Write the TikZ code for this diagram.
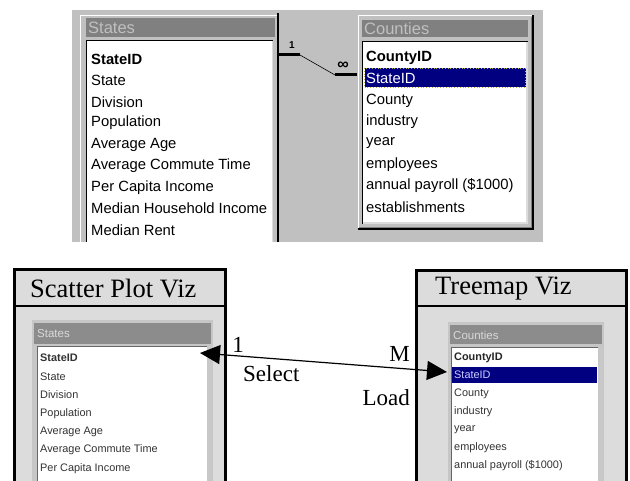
\documentclass[tikz,border=0pt]{standalone}
\usepackage{fontspec}
\setmainfont{Liberation Serif}
\newfontfamily\uisans{Liberation Sans}
\usetikzlibrary{arrows.meta}
\definecolor{panelgray}{HTML}{C0C0C0}
\definecolor{titlegray}{HTML}{808080}
\definecolor{boxgray}{HTML}{DCDCDC}
\definecolor{selnavy}{HTML}{000080}
\definecolor{blurbar}{HTML}{8C8C8C}
\definecolor{blurstrip}{HTML}{C8C8C8}
\tikzset{
  rowtxt/.style={anchor=west, inner sep=0pt, font=\uisans\fontsize{14.8}{16}\selectfont},
  titletxt/.style={anchor=west, inner sep=0pt, text=panelgray, font=\uisans\fontsize{16.5}{18}\selectfont},
  smallrow/.style={anchor=west, inner sep=0pt, text=black!80, font=\uisans\fontsize{10.9}{12}\selectfont},
  smalltitle/.style={anchor=west, inner sep=0pt, text=black!15, font=\uisans\fontsize{11.5}{12}\selectfont},
  bigtxt/.style={inner sep=0pt, font=\fontsize{23}{28}\selectfont},
  headtxt/.style={inner sep=0pt, anchor=west, font=\fontsize{26.5}{30}\selectfont},
  vizbox/.style={draw=black, line width=3pt, fill=boxgray},
  relline/.style={line width=3pt},
  biarrow/.style={line width=1.2pt, {Triangle[length=20pt,width=19pt]}-{Triangle[length=20pt,width=19pt]}}
}
\begin{document}
\begin{tikzpicture}[x=1pt,y=-1pt]
\useasboundingbox (0,0) rectangle (630,481);
\clip (0,0) rectangle (630,481);
\fill[white] (0,0) rectangle (630,481);

% ================= top panel =================
\begin{scope}
\clip (72,10) rectangle (543,242);
\fill[panelgray] (72,10) rectangle (543,242);
% States window
\draw[white, line width=1pt] (80.5,250) -- (80.5,15.5) -- (277,15.5);
\draw[black, line width=1.5pt] (278,13) -- (278,250);
\fill[titlegray] (86,18) rectangle (275,37);
\node[titletxt] (sttl) at (88,28) {States};
\fill[white] (86,40) rectangle (273,250);
\draw[black, line width=1pt] (86.5,250) -- (86.5,40.5) -- (273,40.5);
\draw[boxgray, line width=1pt] (272.5,41) -- (272.5,250);
\node[rowtxt, font=\uisans\bfseries\fontsize{14.8}{16}\selectfont] (sr0) at (91,59) {StateID};
\foreach \t [count=\i] in {State,Division,Population,Average Age,Average Commute Time,Per Capita Income,Median Household Income,Median Rent}
  \node[rowtxt] (sr\i) at (91,{59+21.375*\i}) {\t};
\end{scope}

% Counties window
\draw[white, line width=1pt] (358.5,229) -- (358.5,15.5) -- (533,15.5);
\draw[black, line width=1.2pt] (357.5,229) -- (533,229) -- (533,15);
\draw[titlegray, line width=1pt] (359,227.5) -- (531.5,227.5) -- (531.5,17);
\fill[titlegray] (362,20) rectangle (528,37);
\node[titletxt] (cttl) at (364,29) {Counties};
\fill[white] (362,41) rectangle (528,224);
\draw[black, line width=1pt] (362.5,224) -- (362.5,41.5) -- (528,41.5);
\draw[boxgray, line width=1.5pt] (363,223) -- (527,223) -- (527,42);
\fill[selnavy] (364.5,68) rectangle (525.5,87.5);
\draw[yellow!70!black, dotted, line width=0.8pt] (364.5,68) rectangle (525.5,87.5);
\node[rowtxt, font=\uisans\bfseries\fontsize{14.8}{16}\selectfont] (cr0) at (366,58) {CountyID};
\node[rowtxt, text=white] (cr1) at (366,78) {StateID};
\foreach \t [count=\i from 2] in {County,industry,year,employees,annual payroll (\$1000),establishments}
  \node[rowtxt] (cr\i) at (366,{58+21.33*\i}) {\t};

% relationship line
\coordinate (relA) at (278,55);
\coordinate (relB) at (300,55);
\coordinate (relC) at (335,75);
\coordinate (relD) at (357,75);
\draw[relline] (relA) -- (relB);
\draw[line width=0.6pt] (relB) -- (relC);
\draw[relline] (relC) -- (relD);
\node[inner sep=0pt, font=\uisans\bfseries\fontsize{10}{12}\selectfont] (relone) at (292,45) {1};
\node[inner sep=0pt, font=\uisans\bfseries\fontsize{16}{16}\selectfont] (relmany) at (343,66) {∞};

% ================= bottom panel =================
% Scatter Plot Viz
\draw[vizbox] (14.5,270) rectangle (225.5,520);
\draw[line width=2pt] (14.5,306) -- (225.5,306);
\node[headtxt] (spt) at (30,288.5) {Scatter Plot Viz};
\fill[boxgray!90!black] (32,320) rectangle (213,500);
\fill[blurbar] (34,323) rectangle (211,344);
\node[smalltitle] (sptl) at (37,334) {States};
\fill[white] (37,346) rectangle (207,500);
\fill[blurstrip] (207,346) rectangle (212,500);
\draw[black!60, line width=1pt] (37.5,500) -- (37.5,346.5) -- (207,346.5);
\node[smallrow, font=\uisans\bfseries\fontsize{10.9}{12}\selectfont] (ss0) at (40,358) {StateID};
\foreach \t [count=\i] in {State,Division,Population,Average Age,Average Commute Time,Per Capita Income}
  \node[smallrow] (ss\i) at (40,{358+18.4*\i}) {\t};

% Treemap Viz
\draw[vizbox] (416.5,271) rectangle (626.5,520);
\draw[line width=2pt] (416.5,306) -- (626.5,306);
\node[headtxt] (tmt) at (435,288.5) {Treemap Viz};
\fill[boxgray!90!black] (448,322) rectangle (604,500);
\fill[blurbar] (450,325) rectangle (602,344);
\node[smalltitle] (tmtl) at (453,335) {Counties};
\fill[white] (451,347) rectangle (598,500);
\fill[blurstrip] (598,347) rectangle (603,500);
\draw[black!60, line width=1pt] (451.5,500) -- (451.5,347.5) -- (598,347.5);
\fill[selnavy] (452,367) rectangle (597,383);
\node[smallrow, text=black!85, font=\uisans\bfseries\fontsize{10.9}{12}\selectfont] (ts0) at (454,358) {CountyID};
\node[smallrow, text=white!80!blue] (ts1) at (454,375) {StateID};
\foreach \t [count=\i from 2] in {County,industry,year,employees,annual payroll (\$1000)}
  \node[smallrow] (ts\i) at (454,{358+18*\i}) {\t};

% connector
\coordinate (selA) at (200,353);
\coordinate (selB) at (447,372);
\draw[biarrow] (selA) -- (selB);
\node[bigtxt] (lone) at (238,345) {1};
\node[bigtxt, anchor=west] (lsel) at (243,374) {Select};
\node[bigtxt, anchor=east] (lm) at (410,354) {M};
\node[bigtxt, anchor=east] (lload) at (410,398) {Load};
\end{tikzpicture}
\end{document}
